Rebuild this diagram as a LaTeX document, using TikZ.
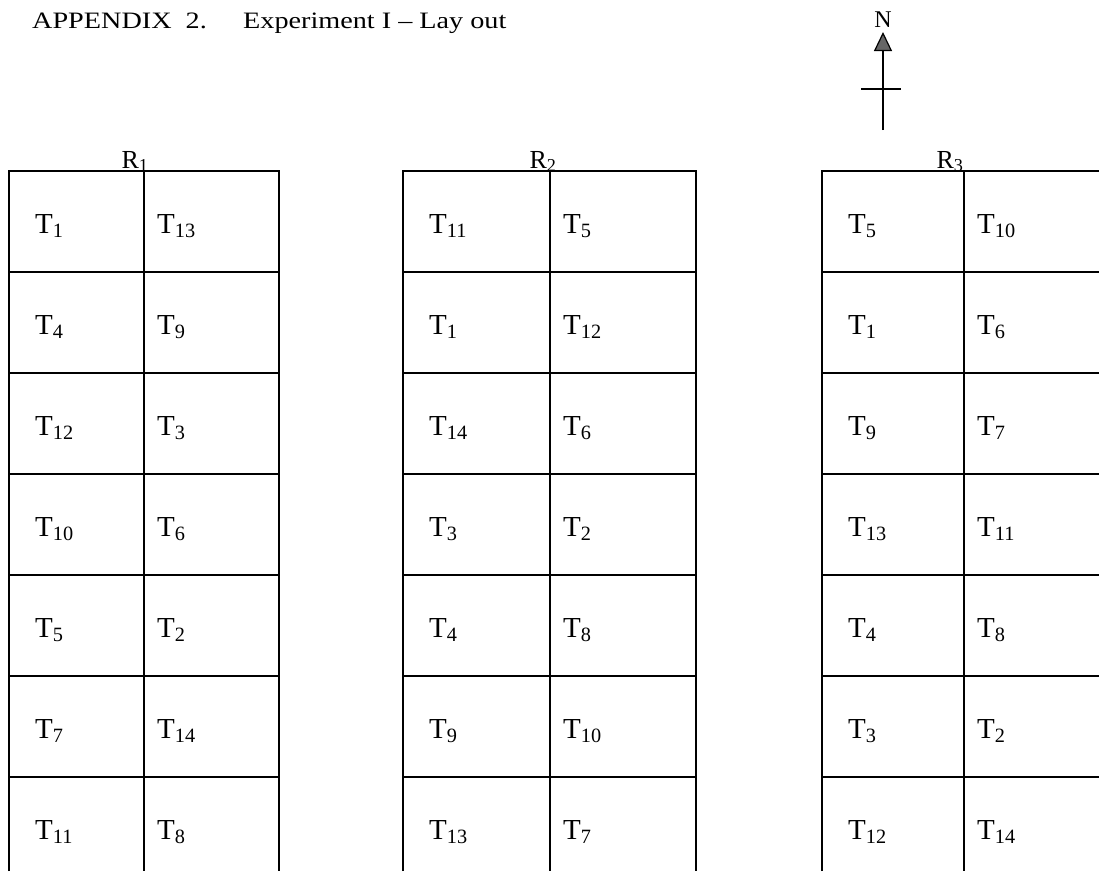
\documentclass[tikz,border=0pt]{standalone}
\usepackage{fontspec}
\setmainfont{Liberation Serif}
\newfontfamily\headfont{Liberation Serif}[FakeStretch=1.2,Ligatures=TeX]
\usetikzlibrary{arrows.meta,positioning}

\begin{document}
\begin{tikzpicture}[
    x=1pt, y=-1pt,
    plotline/.style={line width=1.2pt},
    lbl/.style={inner sep=0pt, font=\fontsize{26}{30}\selectfont},
    head/.style={inner sep=0pt, anchor=base west, font=\headfont\fontsize{23.5}{28}\selectfont},
    trt/.style={inner sep=0pt, anchor=base west, font=\fontsize{29}{33}\selectfont},
    >=Triangle
]
  \useasboundingbox (0,0) rectangle (1099,871);

  % heading
  \node[head] (appx) at (32,28) {APPENDIX\ \ 2.};
  \node[head] (title) at (243,28) {Experiment I \textendash{} Lay out};

  % north sign
  \node[lbl, anchor=base, font=\fontsize{24}{28}\selectfont] (north) at (883,27) {N};
  \coordinate (ntip) at (883,32);
  \coordinate (ntail) at (883,130);
  \coordinate (crossw) at (861,89);
  \coordinate (crosse) at (901,89);
  \draw[plotline, -{Triangle[length=19pt, width=18pt, fill=gray!80!black]}] (ntail) -- (ntip);
  \draw[plotline] (crossw) -- (crosse);

  % replicates: left / middle / right edge / label x / treatments per row
  \foreach \rep/\bl/\mid/\rt/\rx/\trts in {
      1/9/144/279/135/{1/13,4/9,12/3,10/6,5/2,7/14,11/8},
      2/403/550/696/543/{11/5,1/12,14/6,3/2,4/8,9/10,13/7},
      3/822/964/1102/950/{5/10,1/6,9/7,13/11,4/8,3/2,12/14}} {
    \node[lbl, anchor=base] (rep\rep) at (\rx,168) {R\textsubscript{\rep}};
    \draw[plotline] (\bl,871) -- (\bl,171) -- (\rt,171) -- (\rt,871);
    \draw[plotline] (\mid,171) -- (\mid,871);
    \foreach \a/\b [count=\k from 0] in \trts {
      \ifnum\k>0
        \draw[plotline] (\bl,{171+101*\k}) -- (\rt,{171+101*\k});
      \fi
      \node[trt] (r\rep-\k-a) at ({\bl+26},{233+101*\k}) {T\textsubscript{\a}};
      \node[trt] (r\rep-\k-b) at ({\mid+13},{233+101*\k}) {T\textsubscript{\b}};
    }
  }
\end{tikzpicture}
\end{document}
